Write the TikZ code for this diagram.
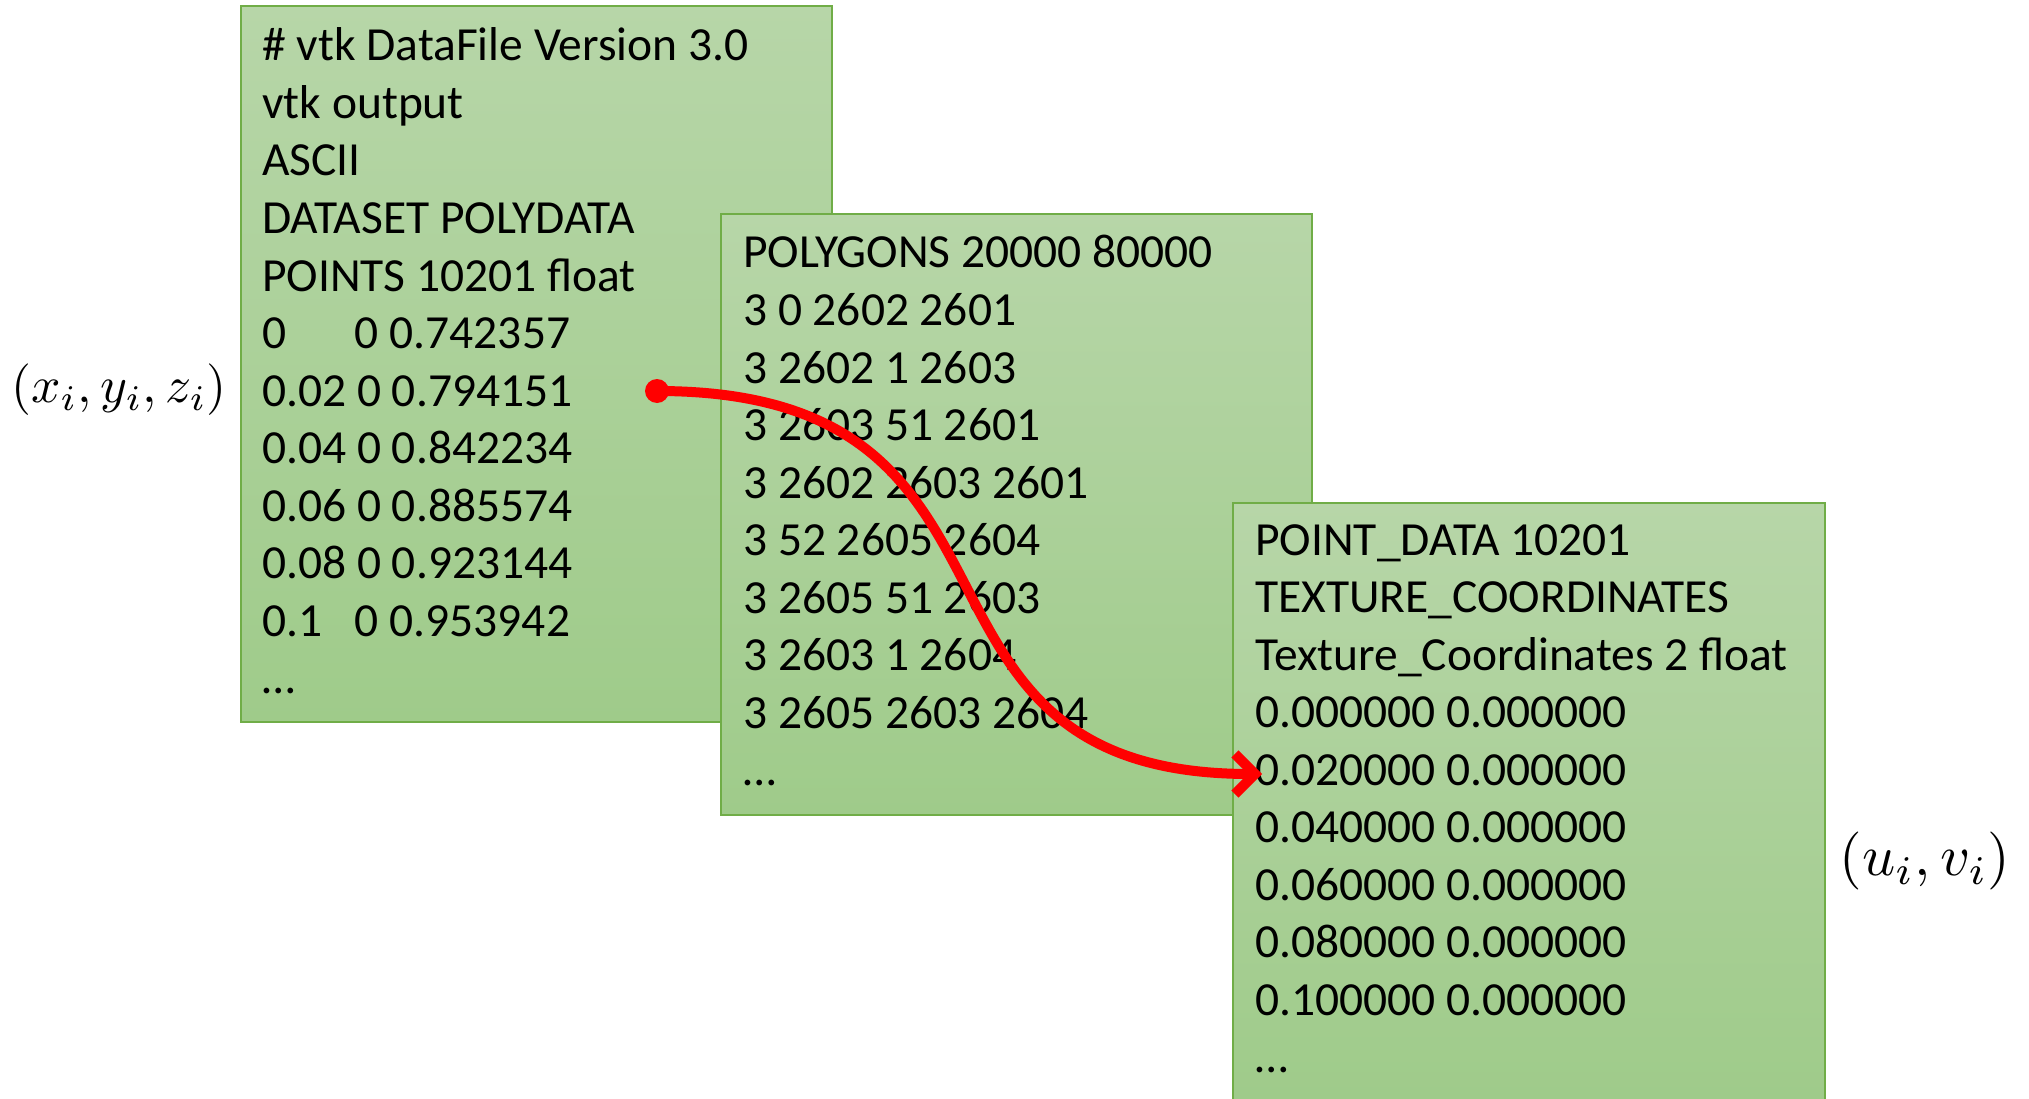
\documentclass[tikz,border=0pt]{standalone}
\usepackage{fontspec}
\setmainfont{Carlito}
\usetikzlibrary{arrows.meta}
\definecolor{boxtop}{RGB}{183,214,168}
\definecolor{boxbot}{RGB}{159,203,138}
\definecolor{boxline}{RGB}{112,173,71}
\newcommand\colA[1]{\makebox[1.95em][l]{#1}}
\begin{document}
\begin{tikzpicture}[x=1pt,y=-1pt,
  box/.style={top color=boxtop, bottom color=boxbot, draw=boxline, line width=1.5pt, anchor=north west, inner sep=0pt, outer sep=0pt},
  txt/.style={anchor=base west, inner sep=0pt, font=\fontsize{47.5}{57.5}\selectfont},
  mathlbl/.style={inner sep=0pt}]
\useasboundingbox (0,0) rectangle (2029,1099);
% box 1
\node[box, minimum width=591pt, minimum height=716pt] (box1) at (241,6) {};
\foreach \t [count=\i from 0] in {\# vtk DataFile Version 3.0, vtk output, ASCII, DATASET POLYDATA, POINTS 10201 float, {\colA{0}0 0.742357}, 0.02 0 0.794151, 0.04 0 0.842234, 0.06 0 0.885574, 0.08 0 0.923144, {\colA{0.1}0 0.953942}, …}
  \node[txt] (a\i) at (262,61+\i*57.5) {\t};
% box 2
\node[box, minimum width=591pt, minimum height=601pt] (box2) at (721,214) {};
\foreach \t [count=\i from 0] in {POLYGONS 20000 80000, 3 0 2602 2601, 3 2602 1 2603, 3 2603 51 2601, 3 2602 2603 2601, 3 52 2605 2604, 3 2605 51 2603, 3 2603 1 2604, 3 2605 2603 2604, …}
  \node[txt] (b\i) at (743,268+\i*57.5) {\t};
% box 3
\node[box, draw=none, minimum width=592pt, minimum height=596pt] (box3) at (1233,503) {};
\draw[boxline, line width=1.5pt] (box3.south west) -- (box3.north west) -- (box3.north east) -- (box3.south east);
\foreach \t [count=\i from 0] in {POINT\_DATA 10201, TEXTURE\_COORDINATES, Texture\_Coordinates 2 float, 0.000000 0.000000, 0.020000 0.000000, 0.040000 0.000000, 0.060000 0.000000, 0.080000 0.000000, 0.100000 0.000000, …}
  \node[txt] (c\i) at (1255,555+\i*57.5) {\t};
% labels
\node[mathlbl, scale=5.15] (xyz) at (119,390) {$(x_i,y_i,z_i)$};
\node[mathlbl, scale=5.8] (uv) at (1925,861) {$(u_i,v_i)$};
% arrow
\node[circle, fill=red, minimum size=24pt, inner sep=0pt] (dot) at (657,391) {};
\coordinate (tip) at (1262,774);
\draw[red, line width=10pt, -{Straight Barb[length=20pt, width=40pt]}] (dot.center) .. controls (1065,391) and (870,774) .. (tip);
\end{tikzpicture}
\end{document}
